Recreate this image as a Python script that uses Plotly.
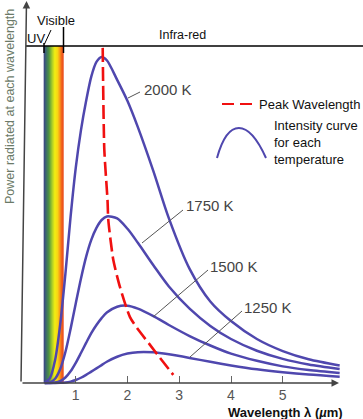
import numpy as np
import plotly.graph_objects as go

# ---------------- data ----------------
WAVELENGTH_UM = [0.4, 0.5, 0.6, 0.7, 0.8, 0.9, 1.0, 1.1, 1.2, 1.3, 1.4, 1.5, 1.6,
                 1.8, 2.0, 2.2, 2.5, 2.8, 3.2, 3.6, 4.0, 4.5, 5.0, 5.5, 6.1]
POWER_2000K = [0.1, 1.5, 7.0, 18.0, 33.5, 51.0, 66.0, 77.5, 86.5, 94.0, 98.5, 100.0, 99.0,
               93.0, 86.5, 78.5, 65.0, 50.5, 35.0, 25.0, 19.0, 13.5, 9.8, 7.3, 5.4]
POWER_1750K = [0.0, 0.2, 1.3, 4.3, 9.5, 16.6, 24.4, 32.0, 38.7, 43.9, 47.6, 50.0, 51.1,
               50.5, 47.3, 43.0, 36.1, 29.6, 22.8, 17.5, 13.5, 9.9, 7.4, 5.7, 4.3]
POWER_1500K = [0.0, 0.0, 0.13, 0.6, 1.7, 3.6, 6.2, 9.2, 12.3, 15.3, 17.8, 19.9, 21.6,
               23.4, 23.7, 22.8, 20.5, 17.8, 14.4, 11.5, 9.0, 6.8, 5.1, 4.0, 3.1]
POWER_1250K = [0.0, 0.0, 0.0, 0.04, 0.16, 0.43, 0.91, 1.61, 2.49, 3.5, 4.5, 5.5, 6.51,
               8.05, 9.02, 9.47, 9.41, 8.8, 7.7, 6.5, 5.4, 4.2, 3.3, 2.6, 1.95]
CURVE_LABELS = ["2000 K", "1750 K", "1500 K", "1250 K"]

PEAK_UM = [1.521, 1.552, 1.614, 1.629, 1.726, 1.855, 2.048, 2.209, 2.435, 2.628, 2.885]
PEAK_POWER = [102.8, 71.5, 56.1, 50.0, 37.7, 29.4, 20.2, 16.3, 11.7, 7.7, 2.5]

VISIBLE_BAND_UM = [0.38, 0.77]
BAND_TOP = 103.4
X_TICKS = [1, 2, 3, 4, 5]
X_TICK_TEXT = ["1", "2", "3", "4", "5"]

# ---------------- layout helpers (pixel -> axis units) ----------------
W, H = 363, 419
X0PX, XSCALE = 24.0, 51.75
Y0PX, YSCALE = 383.0, 3.26


def X(px):
    return (px - X0PX) / XSCALE


def Y(py):
    return (Y0PX - py) / YSCALE


FONT = "Liberation Sans, Arial, sans-serif"
CURVE_COLOR = "#4f47ae"

fig = go.Figure()

# visible spectrum band
edges = np.linspace(VISIBLE_BAND_UM[0], VISIBLE_BAND_UM[1], 61)
zrow = list(np.linspace(0, 1, 60))
fig.add_trace(go.Heatmap(
    x=edges, y=[0, BAND_TOP / 2, BAND_TOP], z=[zrow, zrow],
    colorscale=[[0.0, "#3d3f86"], [0.1, "#3b6670"], [0.26, "#4f9440"],
    [0.42, "#a8cc2a"], [0.56, "#f2ee12"], [0.7, "#f8d414"],
    [0.8, "#f8a018"], [0.9, "#f2641c"], [1.0, "#e84a1c"]],
    showscale=False, hoverinfo="skip"))

for vals in [POWER_2000K, POWER_1750K, POWER_1500K, POWER_1250K]:
    fig.add_trace(go.Scatter(
        x=WAVELENGTH_UM, y=vals, mode="lines",
        line=dict(color=CURVE_COLOR, width=2.5, shape="spline", smoothing=0.8),
        hoverinfo="skip", showlegend=False))

fig.add_trace(go.Scatter(
    x=PEAK_UM, y=PEAK_POWER, mode="lines",
    line=dict(color="#f01010", width=2.6, dash="14px,5px", shape="spline", smoothing=0.6),
    hoverinfo="skip", showlegend=False))

shapes = []


def seg(x0, y0, x1, y1, color="#000", width=1.5, dash="solid"):
    shapes.append(dict(type="line", xref="x", yref="y",
                       x0=X(x0), y0=Y(y0), x1=X(x1), y1=Y(y1),
                       line=dict(color=color, width=width, dash=dash)))


# top region line and separators
seg(26, 46, 363, 46, width=1.5)
seg(44, 43, 44, 53, width=1.5)
seg(44.5, 44, 51, 30, width=1)
seg(63.5, 27, 63.5, 53, width=1.5)

# leader lines
seg(128, 98, 140, 92, color="#555", width=1)
seg(142, 243, 183, 210, color="#555", width=1)
seg(153, 317, 208, 270, color="#555", width=1)
seg(190, 357, 242, 311, color="#555", width=1)

# legend: dashed red
seg(222, 104, 252, 104, color="#f01010", width=2.2, dash="12px,6px")

# legend: hump
shapes.append(dict(
    type="path", xref="x", yref="y",
    path=f"M {X(217)},{Y(158)} C {X(228)},{Y(118)} {X(248)},{Y(118)} {X(266)},{Y(158)}",
    line=dict(color=CURVE_COLOR, width=2)))

annotations = []


def txt(s, px, py, size=13, color="#111", xanchor="center", **kw):
    annotations.append(dict(text=s, x=X(px), y=Y(py), xref="x", yref="y",
                            showarrow=False, xanchor=xanchor, yanchor="middle",
                            font=dict(family=FONT, size=size, color=color), **kw))


# axes arrows
annotations.append(dict(x=X(339), y=Y(383), ax=X(21), ay=Y(383), xref="x", yref="y",
                        axref="x", ayref="y", text="", showarrow=True, arrowhead=2,
                        arrowsize=1, arrowwidth=1.5, arrowcolor="#444"))
annotations.append(dict(x=X(26.5), y=Y(1), ax=X(21), ay=Y(383), xref="x", yref="y",
                        axref="x", ayref="y", text="", showarrow=True, arrowhead=2,
                        arrowsize=1, arrowwidth=1.5, arrowcolor="#444"))

txt("Visible", 55.5, 20, size=13)
txt("UV", 36, 38.5, size=13)
txt("Infra-red", 182.5, 35, size=12.5)

label_pos = [(167.5, 89), (210, 205), (234, 266), (268, 307)]
for lab, (px, py) in zip(CURVE_LABELS, label_pos):
    txt(lab, px, py, size=15, color="#444")

txt("Peak Wavelength", 257, 104, size=13, xanchor="left")
txt("Intensity curve<br>for each<br>temperature", 272, 142, size=13, xanchor="left",
    align="left")

txt("Power radiated at each wavelength", 10, 107, size=12.5, color="#6b7a68",
    textangle=-90)
txt("<b>Wavelength λ (<i>µ</i>m)</b>", 285, 412, size=13, color="#111")

fig.update_layout(
    width=W, height=H, margin=dict(l=0, r=0, t=0, b=0),
    paper_bgcolor="white", plot_bgcolor="white",
    showlegend=False, shapes=shapes, annotations=annotations,
    xaxis=dict(range=[X(0), X(W)], tickvals=X_TICKS, ticktext=X_TICK_TEXT,
               ticks="inside", ticklen=7, tickwidth=1, tickcolor="#666",
               tickfont=dict(family=FONT, size=14, color="#555"),
               showline=False, showgrid=False, zeroline=False,
               anchor="free", position=(H - Y0PX) / H, ticklabelstandoff=2,
               fixedrange=True),
    yaxis=dict(range=[Y(H), Y(0)], showticklabels=False, ticks="",
               showline=False, showgrid=False, zeroline=False, fixedrange=True),
)

fig.write_html("out.html", config={"displayModeBar": False},
               post_script="document.body.style.margin='0';"
                           "document.body.style.overflow='hidden';")
